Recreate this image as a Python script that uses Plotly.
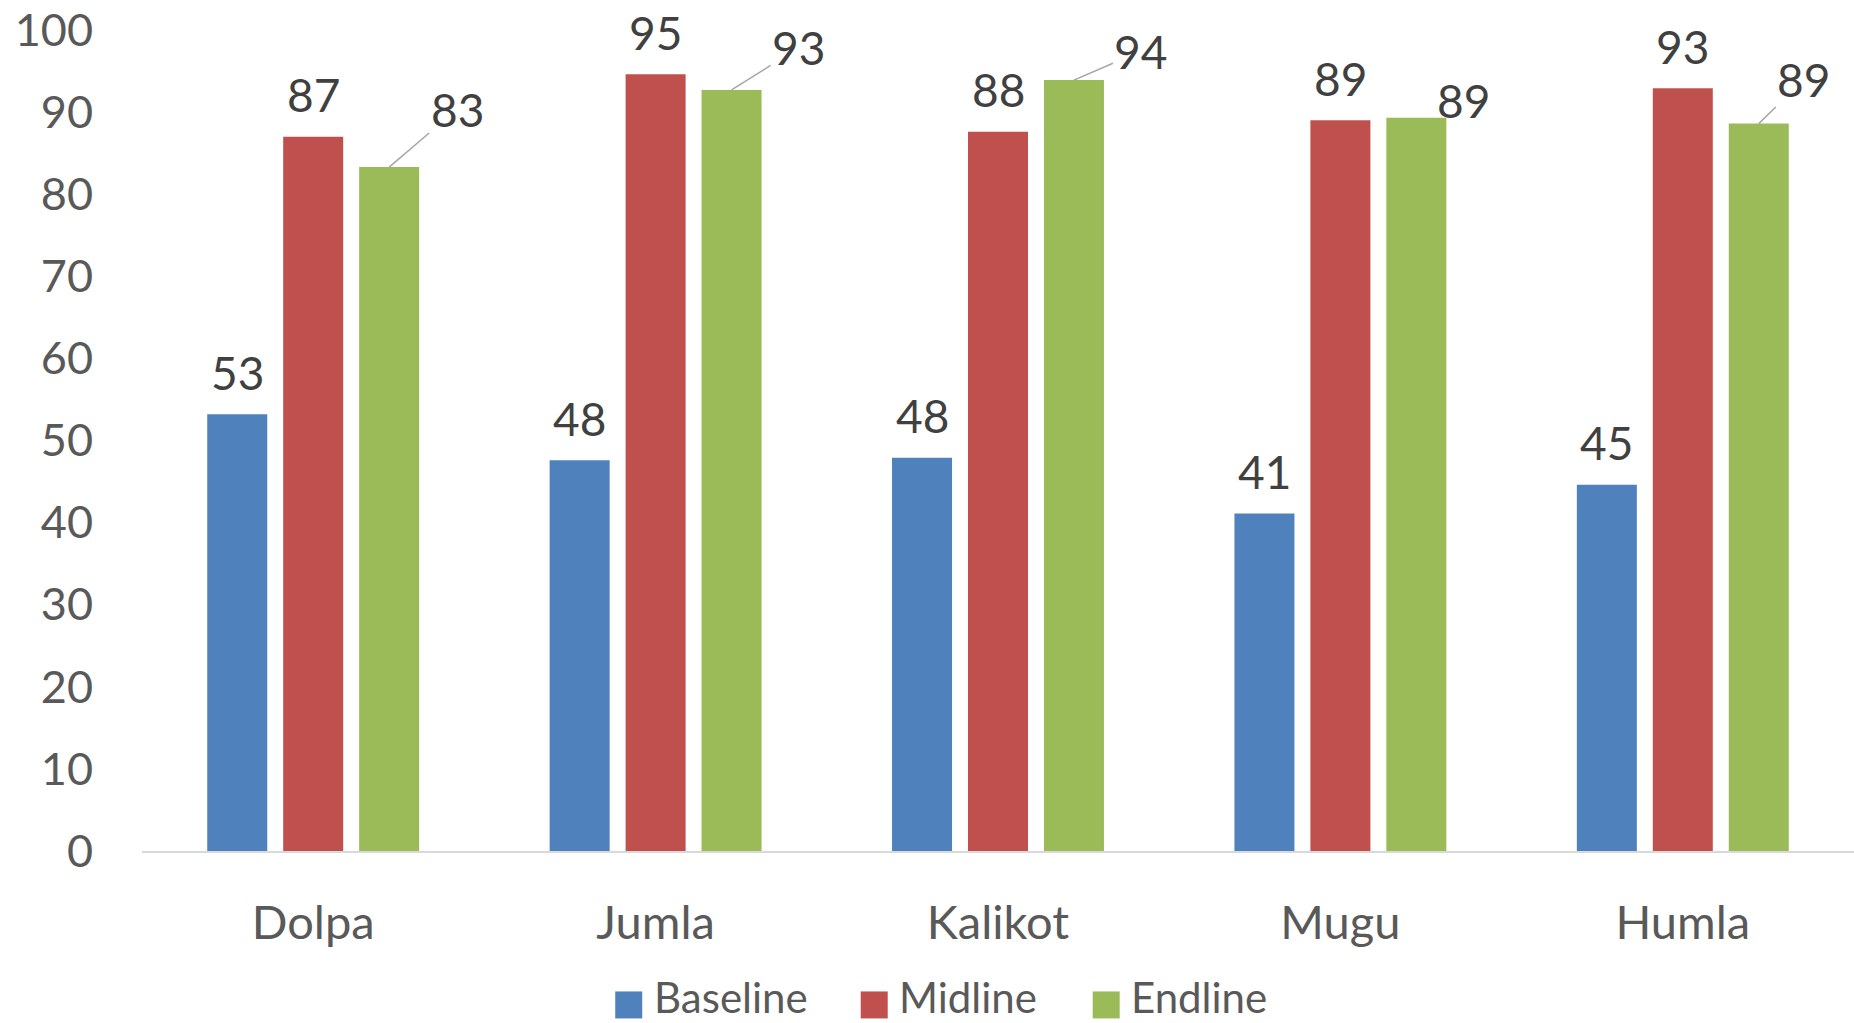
import plotly.graph_objects as go

categories = ["Dolpa", "Jumla", "Kalikot", "Mugu", "Humla"]
series_names = ["Baseline", "Midline", "Endline"]
baseline = [53.2, 47.6, 47.9, 41.1, 44.6]
midline = [87.0, 94.6, 87.6, 89.0, 92.9]
endline = [83.3, 92.7, 93.9, 89.3, 88.6]
y_ticks = [0, 10, 20, 30, 40, 50, 60, 70, 80, 90, 100]

colors = ["#4F81BD", "#C0504D", "#9BBB59"]
FONT = "Lato, 'Open Sans', sans-serif"
BARGAP = 0.3345
GROUPGAP = 0.21

# Endline label offsets (pixels) relative to bar tops, and whether a leader line is drawn
end_offsets = [(68, -58), (67, -42), (67, -29), (47, -17), (45, -44)]
end_leader = [True, True, True, False, True]

idx = list(range(len(categories)))
all_series = [baseline, midline, endline]

fig = go.Figure()
for name, vals, col in zip(series_names, all_series, colors):
    fig.add_trace(go.Bar(x=idx, y=vals, name=name, marker=dict(color=col, line=dict(width=0)),
                         showlegend=False, hoverinfo="y"))

slot = (1 - BARGAP) / 3
annotations = []
for k, vals in enumerate(all_series):
    for i, v in enumerate(vals):
        xpos = i + (k - 1) * slot
        label = f"{v:.0f}"
        if k < 2:
            annotations.append(dict(x=xpos, y=v, xref="x", yref="y", text=label, showarrow=False,
                                    yanchor="middle", yshift=42,
                                    font=dict(family=FONT, size=46, color="#404040")))
        else:
            ax, ay = end_offsets[i]
            annotations.append(dict(x=xpos, y=v, xref="x", yref="y", text=label, showarrow=True,
                                    ax=ax, ay=ay, arrowhead=0, arrowwidth=1.5, standoff=0,
                                    arrowcolor="#A6A6A6" if end_leader[i] else "rgba(0,0,0,0)",
                                    font=dict(family=FONT, size=46, color="#404040")))

# custom legend (large square swatches like the original)
legend_x = [0.2843, 0.4277, 0.5632]
shapes = []
for lx, name, col in zip(legend_x, series_names, colors):
    shapes.append(dict(type="rect", xref="paper", yref="paper", xsizemode="pixel", ysizemode="pixel",
                       xanchor=lx, yanchor=-0.1875, x0=-13.5, x1=13.5, y0=-13.5, y1=13.5,
                       fillcolor=col, line=dict(width=0)))
    annotations.append(dict(x=lx, y=-0.209, xref="paper", yref="paper", text=name, showarrow=False,
                            xanchor="left", yanchor="bottom", xshift=24, borderpad=0,
                            font=dict(family=FONT, size=42, color="#595959")))

fig.update_layout(
    barmode="group", bargap=BARGAP, bargroupgap=GROUPGAP,
    width=1854, height=1023,
    margin=dict(l=142, r=0, t=30, b=172),
    paper_bgcolor="white", plot_bgcolor="white",
    showlegend=False,
    annotations=annotations, shapes=shapes,
    xaxis=dict(tickmode="array", tickvals=idx, ticktext=categories, range=[-0.5, len(categories) - 0.5],
               showgrid=False, zeroline=False, showline=True, linecolor="#D9D9D9", linewidth=2,
               ticks="", ticklabelstandoff=30,
               tickfont=dict(family=FONT, size=47, color="#595959")),
    yaxis=dict(range=[0, 100], tickmode="array", tickvals=y_ticks, showgrid=False, zeroline=False,
               showline=False, ticks="", ticklabelstandoff=48,
               tickfont=dict(family=FONT, size=45, color="#595959")),
)

fig.write_html("out.html")
